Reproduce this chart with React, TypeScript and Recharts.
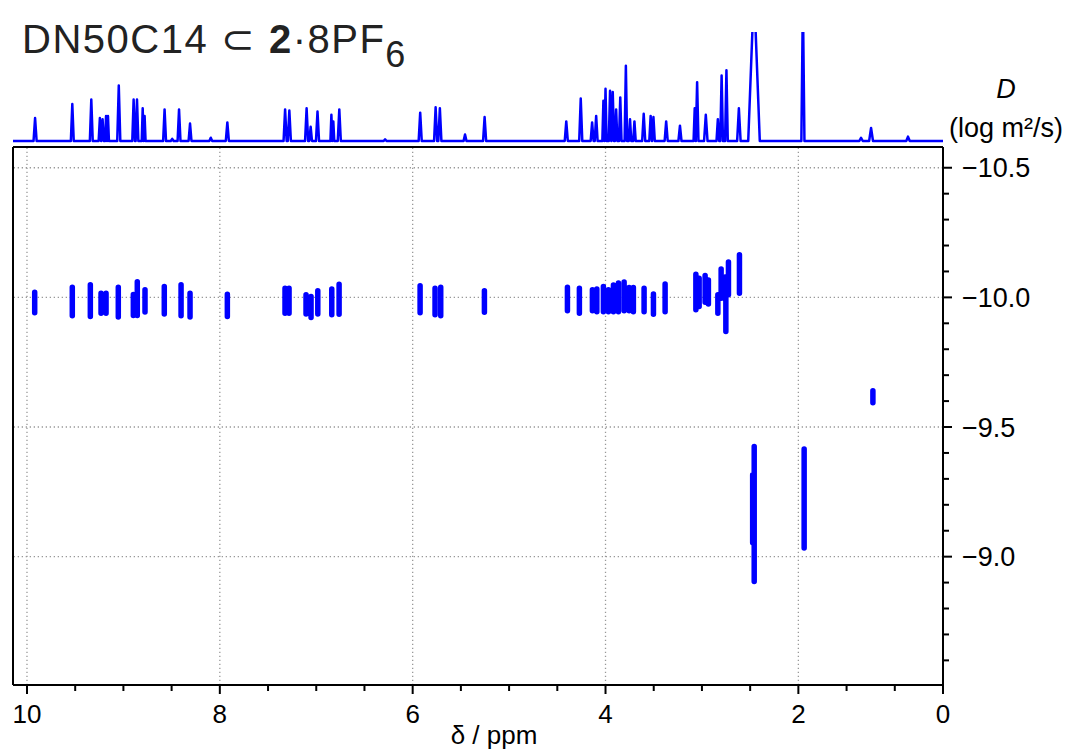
import { ComposedChart, LineChart, Line, XAxis, YAxis, ReferenceLine } from "recharts";

const FONT = '"Liberation Sans", Arial, Helvetica, sans-serif';
const BLUE = "#0000ff";

// plotted windows: chemical shift (ppm) and log D
const PPM_DOMAIN = [0.5, 10.145];
const LOGD_DOMAIN = [-10.58, -8.505];

const X_TICKS = [10, 9.5, 9, 8.5, 8, 7.5, 7, 6.5, 6, 5.5, 5, 4.5, 4, 3.5, 3, 2.5, 2, 1.5, 1, 0.5];
const X_MAJOR_TICKS = [10, 8, 6, 4, 2, 0.5];
const X_MAJOR_LABELS = ["10", "8", "6", "4", "2", "0"];
const X_GRID = [10, 8, 6, 4, 2];

const Y_TICKS = [
  -10.5, -10.4, -10.3, -10.2, -10.1, -10.0, -9.9, -9.8, -9.7, -9.6,
  -9.5, -9.4, -9.3, -9.2, -9.1, -9.0, -8.9, -8.8, -8.7, -8.6,
];
const Y_MAJOR_TICKS = [-10.5, -10.0, -9.5, -9.0];
const Y_MAJOR_LABELS = ["\u221210.5", "\u221210.0", "\u22129.5", "\u22129.0"];

// 1H spectrum on top: [ppm, intensity, half width]
const SPECTRUM_PEAKS: [number, number, number][] = [
  [9.916, 21, 0.016], [9.53, 34, 0.015], [9.333, 38, 0.015], [9.244, 21, 0.013],
  [9.216, 20, 0.013], [9.18, 23, 0.01], [9.16, 23, 0.01], [9.048, 51, 0.016],
  [8.894, 38, 0.014], [8.859, 38, 0.014], [8.8, 30, 0.01], [8.78, 23, 0.01],
  [8.573, 29, 0.015], [8.494, 2, 0.015], [8.423, 29, 0.015], [8.309, 16, 0.015],
  [8.094, 3, 0.015], [7.922, 17, 0.016], [7.323, 29, 0.016], [7.279, 28, 0.016],
  [7.1, 30, 0.016], [7.058, 13, 0.014], [6.987, 27, 0.016], [6.843, 24, 0.01],
  [6.823, 18, 0.01], [6.761, 29, 0.016], [6.286, 1.5, 0.015], [5.922, 26, 0.016],
  [5.762, 31, 0.016], [5.718, 30, 0.016], [5.457, 6, 0.015], [5.254, 22, 0.016],
  [4.407, 18, 0.016], [4.257, 39, 0.016], [4.139, 17, 0.015], [4.097, 23, 0.015],
  [4.022, 37, 0.011], [4.0, 48, 0.011], [3.953, 46, 0.013], [3.925, 45, 0.013],
  [3.89, 29, 0.013], [3.847, 40, 0.013], [3.789, 69, 0.013], [3.746, 20, 0.013],
  [3.7, 18, 0.013], [3.604, 25, 0.016], [3.532, 23, 0.014], [3.503, 22, 0.014],
  [3.371, 18, 0.016], [3.228, 14, 0.016], [3.075, 30, 0.012], [3.05, 54, 0.014],
  [2.96, 24, 0.018], [2.835, 20, 0.014], [2.796, 60, 0.014], [2.746, 65, 0.014],
  [2.617, 30, 0.018], [2.46, 140, 0.06], [1.953, 130, 0.016], [1.35, 3, 0.018],
  [1.246, 12, 0.02], [0.863, 4, 0.018],
];

// DOSY cross peaks: [ppm, log D top, log D bottom]
const DOSY_SIGNALS: [number, number, number][] = [
  [9.92, -10.02, -9.941], [9.53, -10.039, -9.929], [9.343, -10.049, -9.926],
  [9.232, -10.016, -9.939], [9.18, -10.016, -9.939], [9.053, -10.039, -9.924],
  [8.897, -10.011, -9.93], [8.856, -10.06, -9.93], [8.776, -10.029, -9.944],
  [8.576, -10.042, -9.936], [8.402, -10.049, -9.929], [8.309, -10.016, -9.924],
  [7.922, -10.012, -9.926], [7.324, -10.035, -9.939], [7.282, -10.035, -9.939],
  [7.106, -10.01, -9.936], [7.054, -10.003, -9.922], [6.984, -10.026, -9.936],
  [6.839, -10.032, -9.933], [6.763, -10.051, -9.935], [5.923, -10.045, -9.941],
  [5.768, -10.035, -9.933], [5.709, -10.039, -9.929], [5.256, -10.026, -9.943],
  [4.395, -10.039, -9.948], [4.271, -10.035, -9.939], [4.136, -10.029, -9.948],
  [4.09, -10.032, -9.945], [4.022, -10.042, -9.945], [3.97, -10.029, -9.945],
  [3.918, -10.048, -9.945], [3.866, -10.055, -9.945], [3.807, -10.059, -9.948],
  [3.755, -10.038, -9.948], [3.711, -10.038, -9.945], [3.6, -10.035, -9.945],
  [3.503, -10.013, -9.935], [3.382, -10.052, -9.945], [3.063, -10.089, -9.952],
  [3.029, -10.074, -9.965], [2.967, -10.084, -9.981], [2.933, -10.067, -9.974],
  [2.835, -10.01, -9.939], [2.801, -10.109, -9.997], [2.752, -10.08, -9.868],
  [2.725, -10.136, -10.01], [2.611, -10.164, -10.016], [2.474, -9.316, -9.054],
  [2.458, -9.425, -8.904], [1.94, -9.415, -9.033], [1.227, -9.64, -9.594],
];

const spectrum = [
  { ppm: PPM_DOMAIN[1], intensity: 0 },
  ...SPECTRUM_PEAKS.flatMap(([p, h, w]) => [
    { ppm: p + w, intensity: 0 },
    { ppm: p, intensity: h },
    { ppm: p - w, intensity: 0 },
  ]),
  { ppm: PPM_DOMAIN[0], intensity: 0 },
];

const dosy = DOSY_SIGNALS.flatMap(([p, top, bottom]) => [
  { ppm: p, logD: top },
  { ppm: p, logD: bottom },
  { ppm: p, logD: null },
]);

function XTick(props: any) {
  const { x, y, payload } = props;
  const i = X_MAJOR_TICKS.indexOf(payload.value);
  return (
    <g>
      <line x1={x} x2={x} y1={y} y2={y + (i >= 0 ? 9 : 6)} stroke="#000" strokeWidth={2} />
      {i >= 0 && (
        <text x={x} y={y + 38} textAnchor="middle" fontSize={26} fontFamily={FONT} fill="#000">
          {X_MAJOR_LABELS[i]}
        </text>
      )}
    </g>
  );
}

function YTick(props: any) {
  const { x, y, payload } = props;
  const i = Y_MAJOR_TICKS.indexOf(payload.value);
  return (
    <g>
      <line x1={x} x2={x + (i >= 0 ? 9 : 6)} y1={y} y2={y} stroke="#000" strokeWidth={2} />
      {i >= 0 && (
        <text x={x + 19} y={y} dy="0.36em" fontSize={27} fontFamily={FONT} fill="#000">
          {Y_MAJOR_LABELS[i]}
        </text>
      )}
    </g>
  );
}

export default function App() {
  return (
    <div style={{ position: "absolute", left: 0, top: 0, width: 1072, height: 752, background: "#fff", fontFamily: FONT }}>
      <div style={{ position: "absolute", left: 0, top: 0 }}>
        <LineChart width={1072} height={150} margin={{ top: 32, right: 129, left: 13, bottom: 4.64 }}>
          <XAxis type="number" dataKey="ppm" domain={PPM_DOMAIN} reversed hide allowDataOverflow />
          <YAxis type="number" domain={[-4, 100]} hide allowDataOverflow />
          <Line
            data={spectrum}
            dataKey="intensity"
            stroke={BLUE}
            strokeWidth={2.5}
            strokeLinejoin="round"
            dot={false}
            isAnimationActive={false}
          />
        </LineChart>
      </div>
      <div style={{ position: "absolute", left: 0, top: 0 }}>
        <ComposedChart width={1072} height={752} margin={{ top: 147, right: 0, bottom: 0, left: 13 }}>
          <XAxis
            type="number"
            dataKey="ppm"
            domain={PPM_DOMAIN}
            reversed
            allowDataOverflow
            ticks={X_TICKS}
            interval={0}
            tick={XTick}
            tickLine={false}
            tickSize={0}
            tickMargin={0}
            height={67}
            axisLine={{ stroke: "#000", strokeWidth: 2 }}
            label={{ value: "\u03b4 / ppm", position: "insideBottom", offset: 8, dx: 16, fontSize: 26, fill: "#000", fontFamily: FONT }}
          />
          <YAxis
            type="number"
            orientation="right"
            domain={LOGD_DOMAIN}
            reversed
            allowDataOverflow
            ticks={Y_TICKS}
            interval={0}
            tick={YTick}
            tickLine={false}
            tickSize={0}
            tickMargin={0}
            width={129}
            axisLine={{ stroke: "#000", strokeWidth: 2 }}
          />
          {X_GRID.map((v) => (
            <ReferenceLine key={"x" + v} x={v} stroke="#999" strokeWidth={1.3} strokeDasharray="1.3 2.7" />
          ))}
          {Y_MAJOR_TICKS.map((v) => (
            <ReferenceLine key={"y" + v} y={v} stroke="#999" strokeWidth={1.3} strokeDasharray="1.3 2.7" />
          ))}
          <ReferenceLine x={PPM_DOMAIN[1]} stroke="#000" strokeWidth={2} />
          <ReferenceLine y={LOGD_DOMAIN[0]} stroke="#000" strokeWidth={2} />
          <Line
            data={dosy}
            dataKey="logD"
            stroke={BLUE}
            strokeWidth={5.5}
            strokeLinecap="round"
            dot={false}
            connectNulls={false}
            isAnimationActive={false}
          />
        </ComposedChart>
      </div>
      <svg width={1072} height={160} style={{ position: "absolute", left: 0, top: 0, pointerEvents: "none" }}>
        <text x={22} y={53} fontSize={40} fontFamily={FONT} fill="#222" letterSpacing={1.5}>
          DN50C14 {"\u2282"} <tspan fontWeight="bold">2</tspan>
          {"\u00b78PF"}
          <tspan fontSize={36} dy={14}>6</tspan>
        </text>
        <text x={1006} y={98} fontSize={27} fontFamily={FONT} fontStyle="italic" textAnchor="middle" fill="#000">
          D
        </text>
        <text x={1006} y={137} fontSize={27} fontFamily={FONT} textAnchor="middle" fill="#000">
          (log m{"\u00b2"}/s)
        </text>
      </svg>
    </div>
  );
}
